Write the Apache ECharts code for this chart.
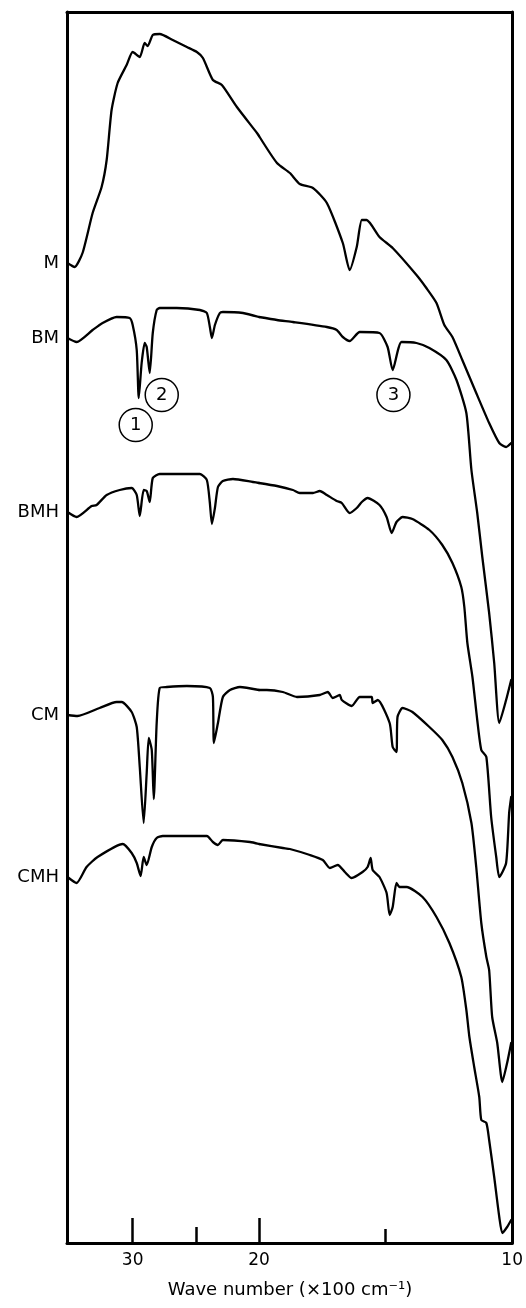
<!DOCTYPE html>
<html>
<head>
<meta charset="utf-8">
<script src="https://cdn.jsdelivr.net/npm/echarts@6.0.0/dist/echarts.min.js"></script>
<style>html,body{margin:0;padding:0;background:#fff}#c{width:526px;height:1308px}</style>
</head>
<body>
<div id="c"></div>
<script>
// x: wave number (x100 cm-1), y: relative transmittance (arbitrary units, offset traces)
const M = [[35.16,980],[34.60,976],[33.97,990],[33.17,1030],[32.46,1056],[32.06,1083],[31.67,1133],[31.19,1160],[30.48,1178],[30.00,1191],[29.44,1186],[29.05,1200],[28.81,1197],[28.41,1208],[27.86,1209],[26.83,1203],[25.71,1196],[24.92,1191],[24.44,1185],[23.65,1163],[22.94,1158],[21.75,1136],[20.16,1110],[20.00,1107],[19.29,1080],[18.78,1070],[18.39,1059],[17.87,1055],[17.32,1040],[16.69,1000],[16.42,973],[16.14,996],[15.94,1023],[15.75,1023],[15.24,1006],[14.72,995],[13.78,968],[13.39,955],[12.99,940],[12.68,918],[12.36,906],[11.97,883],[11.42,850],[10.91,820],[10.51,800],[10.24,796],[10.04,800]];
const BM = [[35.16,905],[34.44,901],[33.17,913],[32.38,920],[31.27,926],[30.24,925],[30.00,918],[29.68,893],[29.52,845],[29.29,880],[29.05,900],[28.89,896],[28.65,870],[28.41,910],[28.10,933],[27.86,935],[26.51,935],[24.68,933],[24.13,930],[23.89,916],[23.73,905],[23.49,918],[23.10,930],[22.86,931],[21.27,930],[20.00,926],[19.29,923],[18.66,921],[17.32,916],[16.93,913],[16.69,906],[16.42,902],[16.02,911],[15.24,910],[14.92,896],[14.72,873],[14.37,901],[13.78,900],[13.27,895],[12.60,883],[12.20,863],[11.81,830],[11.61,773],[11.38,730],[11.18,686],[10.91,630],[10.71,580],[10.51,520],[10.24,543],[10.04,563]];
const BMH = [[35.16,731],[34.44,726],[33.25,737],[32.86,738],[32.06,748],[31.03,753],[30.08,755],[29.68,748],[29.44,727],[29.13,753],[28.89,752],[28.65,741],[28.41,765],[27.86,769],[24.68,769],[24.13,763],[23.89,740],[23.73,719],[23.49,735],[23.25,756],[22.86,762],[22.06,764],[20.48,761],[20.00,760],[19.29,757],[18.66,753],[18.39,750],[17.87,750],[17.60,752],[17.32,748],[16.93,742],[16.73,740],[16.42,730],[16.14,735],[15.94,741],[15.71,745],[15.24,738],[14.96,726],[14.76,710],[14.57,721],[14.33,726],[13.94,724],[13.27,713],[12.76,698],[12.36,680],[12.01,656],[11.89,636],[11.77,600],[11.57,566],[11.38,523],[11.22,493],[11.02,486],[10.83,426],[10.63,386],[10.51,366],[10.24,380],[10.12,430],[10.04,446]];
const CM = [[35.16,528],[34.37,527],[32.62,535],[31.27,541],[30.87,541],[30.08,531],[29.68,516],[29.44,476],[29.13,420],[28.89,470],[28.73,505],[28.49,493],[28.33,444],[28.10,520],[27.86,555],[27.30,556],[25.71,557],[23.89,555],[23.65,546],[23.57,500],[23.25,520],[22.86,546],[22.30,553],[21.51,556],[20.00,553],[19.69,553],[19.06,551],[18.50,546],[17.60,548],[17.28,551],[17.09,545],[16.81,548],[16.73,543],[16.34,537],[16.02,546],[15.55,546],[15.51,540],[15.31,543],[14.84,520],[14.72,496],[14.57,491],[14.53,526],[14.33,535],[13.94,531],[13.27,516],[12.76,503],[12.36,486],[11.97,460],[11.61,420],[11.42,376],[11.22,320],[11.02,286],[10.91,273],[10.79,226],[10.59,200],[10.39,161],[10.20,180],[10.04,200]];
const CMH = [[35.16,366],[34.44,360],[33.65,376],[32.78,386],[30.79,399],[30.08,390],[29.68,380],[29.37,367],[29.13,386],[28.89,378],[28.49,396],[28.10,405],[27.62,407],[24.13,407],[23.65,401],[23.25,398],[22.86,403],[20.71,401],[20.00,399],[19.06,395],[18.78,394],[17.99,388],[17.48,383],[17.20,375],[16.89,378],[16.61,371],[16.34,365],[15.91,371],[15.71,376],[15.59,385],[15.51,373],[15.24,366],[14.96,350],[14.84,328],[14.72,336],[14.57,360],[14.45,356],[14.17,356],[13.54,346],[12.99,326],[12.48,300],[12.01,266],[11.81,233],[11.69,206],[11.50,176],[11.30,146],[11.22,123],[11.02,120],[10.91,103],[10.71,66],[10.51,26],[10.39,10],[10.20,16],[10.04,23]];

const curveNames = ['M', 'BM', 'BMH', 'CM', 'CMH'];
const curves = [M, BM, BMH, CM, CMH];

// peak markers (circled numbers)
const peakMarksLeft = [[29.76, 818, '1'], [27.70, 848, '2']];
const peakMarksRight = [[14.69, 848, '3']];

const ticksLong = [30, 20];
const ticksShortLeft = [25];
const ticksShortRight = [15];
const labelsLeft = [30, 20];
const labelsRight = [10];

const FONT = 'DejaVu Sans';
const INK = '#000';

const chart = echarts.init(document.getElementById('c'), null, {renderer: 'canvas'});

const frameLine = {show: true, onZero: false, lineStyle: {color: INK, width: 3}};
const noTick = {show: false};
const noLabel = {show: false};
const noSplit = {show: false};

const xAxis = [
  {gridIndex: 0, type: 'value', position: 'bottom', min: 20, max: 35.2, inverse: true,
   axisLine: frameLine, splitLine: noSplit,
   axisTick: {show: true, inside: true, length: 25, customValues: ticksLong, lineStyle: {color: INK, width: 2.5}},
   axisLabel: {show: true, customValues: labelsLeft, margin: 9, fontSize: 17, fontFamily: FONT, color: INK}},
  {gridIndex: 0, type: 'value', position: 'bottom', min: 20, max: 35.2, inverse: true,
   axisLine: {show: false, onZero: false}, splitLine: noSplit, axisLabel: noLabel,
   axisTick: {show: true, inside: true, length: 16, customValues: ticksShortLeft, lineStyle: {color: INK, width: 2.5}}},
  {gridIndex: 0, type: 'value', position: 'top', min: 20, max: 35.2, inverse: true,
   axisLine: frameLine, splitLine: noSplit, axisTick: noTick, axisLabel: noLabel},
  {gridIndex: 1, type: 'value', position: 'bottom', min: 10, max: 20, inverse: true,
   axisLine: frameLine, splitLine: noSplit,
   axisTick: {show: true, inside: true, length: 14, customValues: ticksShortRight, lineStyle: {color: INK, width: 2.5}},
   axisLabel: {show: true, customValues: labelsRight, margin: 9, fontSize: 17, fontFamily: FONT, color: INK}},
  {gridIndex: 1, type: 'value', position: 'top', min: 10, max: 20, inverse: true,
   axisLine: frameLine, splitLine: noSplit, axisTick: noTick, axisLabel: noLabel},
  {gridIndex: 2, type: 'value', position: 'bottom', min: 0, max: 1,
   axisLine: {show: false, onZero: false}, splitLine: noSplit, axisTick: noTick, axisLabel: noLabel,
   name: 'Wave number (×100 cm⁻¹)', nameLocation: 'middle', nameGap: 38,
   nameTextStyle: {fontSize: 18, fontFamily: FONT, color: INK}}
];

const yAxis = [
  {gridIndex: 0, type: 'value', min: 0, max: 1231, position: 'left',
   axisLine: frameLine, axisTick: noTick, axisLabel: noLabel, splitLine: noSplit},
  {gridIndex: 1, type: 'value', min: 0, max: 1231, position: 'right',
   axisLine: frameLine, axisTick: noTick, axisLabel: noLabel, splitLine: noSplit},
  {gridIndex: 2, type: 'value', min: 0, max: 1, show: false}
];

const series = [];
curves.forEach((d, i) => {
  const common = {type: 'line', showSymbol: false, symbol: 'none', smooth: 0.2,
    lineStyle: {color: INK, width: 2.3, join: 'round', cap: 'round'}, silent: true, animation: false, z: 3};
  series.push(Object.assign({name: curveNames[i] + '-a', xAxisIndex: 0, yAxisIndex: 0,
    data: d.filter(p => p[0] >= 20)}, common));
  series.push(Object.assign({name: curveNames[i] + '-b', xAxisIndex: 3, yAxisIndex: 1,
    data: d.filter(p => p[0] <= 20)}, common));
});

// trace names placed at the start of each trace
series.push({
  type: 'scatter', xAxisIndex: 0, yAxisIndex: 0, symbolSize: 1, silent: true, animation: false,
  itemStyle: {color: '#fff', opacity: 1},
  data: curves.map((d, i) => ({value: d[0], name: curveNames[i]})),
  label: {show: true, position: 'left', distance: 8, formatter: p => p.name, opacity: 1,
    fontSize: 18, fontFamily: FONT, color: INK}
});

const circleStyle = {
  type: 'scatter', symbol: 'circle', symbolSize: 33, silent: true, animation: false, z: 4,
  itemStyle: {color: '#fff', opacity: 1, borderColor: INK, borderWidth: 1.5},
  label: {show: true, position: 'inside', formatter: p => p.value[2], opacity: 1,
    fontSize: 18, fontFamily: FONT, color: INK, textBorderWidth: 0}
};
series.push(Object.assign({xAxisIndex: 0, yAxisIndex: 0, data: peakMarksLeft}, circleStyle));
series.push(Object.assign({xAxisIndex: 3, yAxisIndex: 1, data: peakMarksRight}, circleStyle));

chart.setOption({
  animation: false,
  backgroundColor: '#fff',
  grid: [
    {left: 67, top: 12, width: 192, height: 1231},
    {left: 259, top: 12, width: 254, height: 1231},
    {left: 67, top: 12, width: 446, height: 1231}
  ],
  xAxis: xAxis,
  yAxis: yAxis,
  series: series
});
</script>
</body>
</html>
